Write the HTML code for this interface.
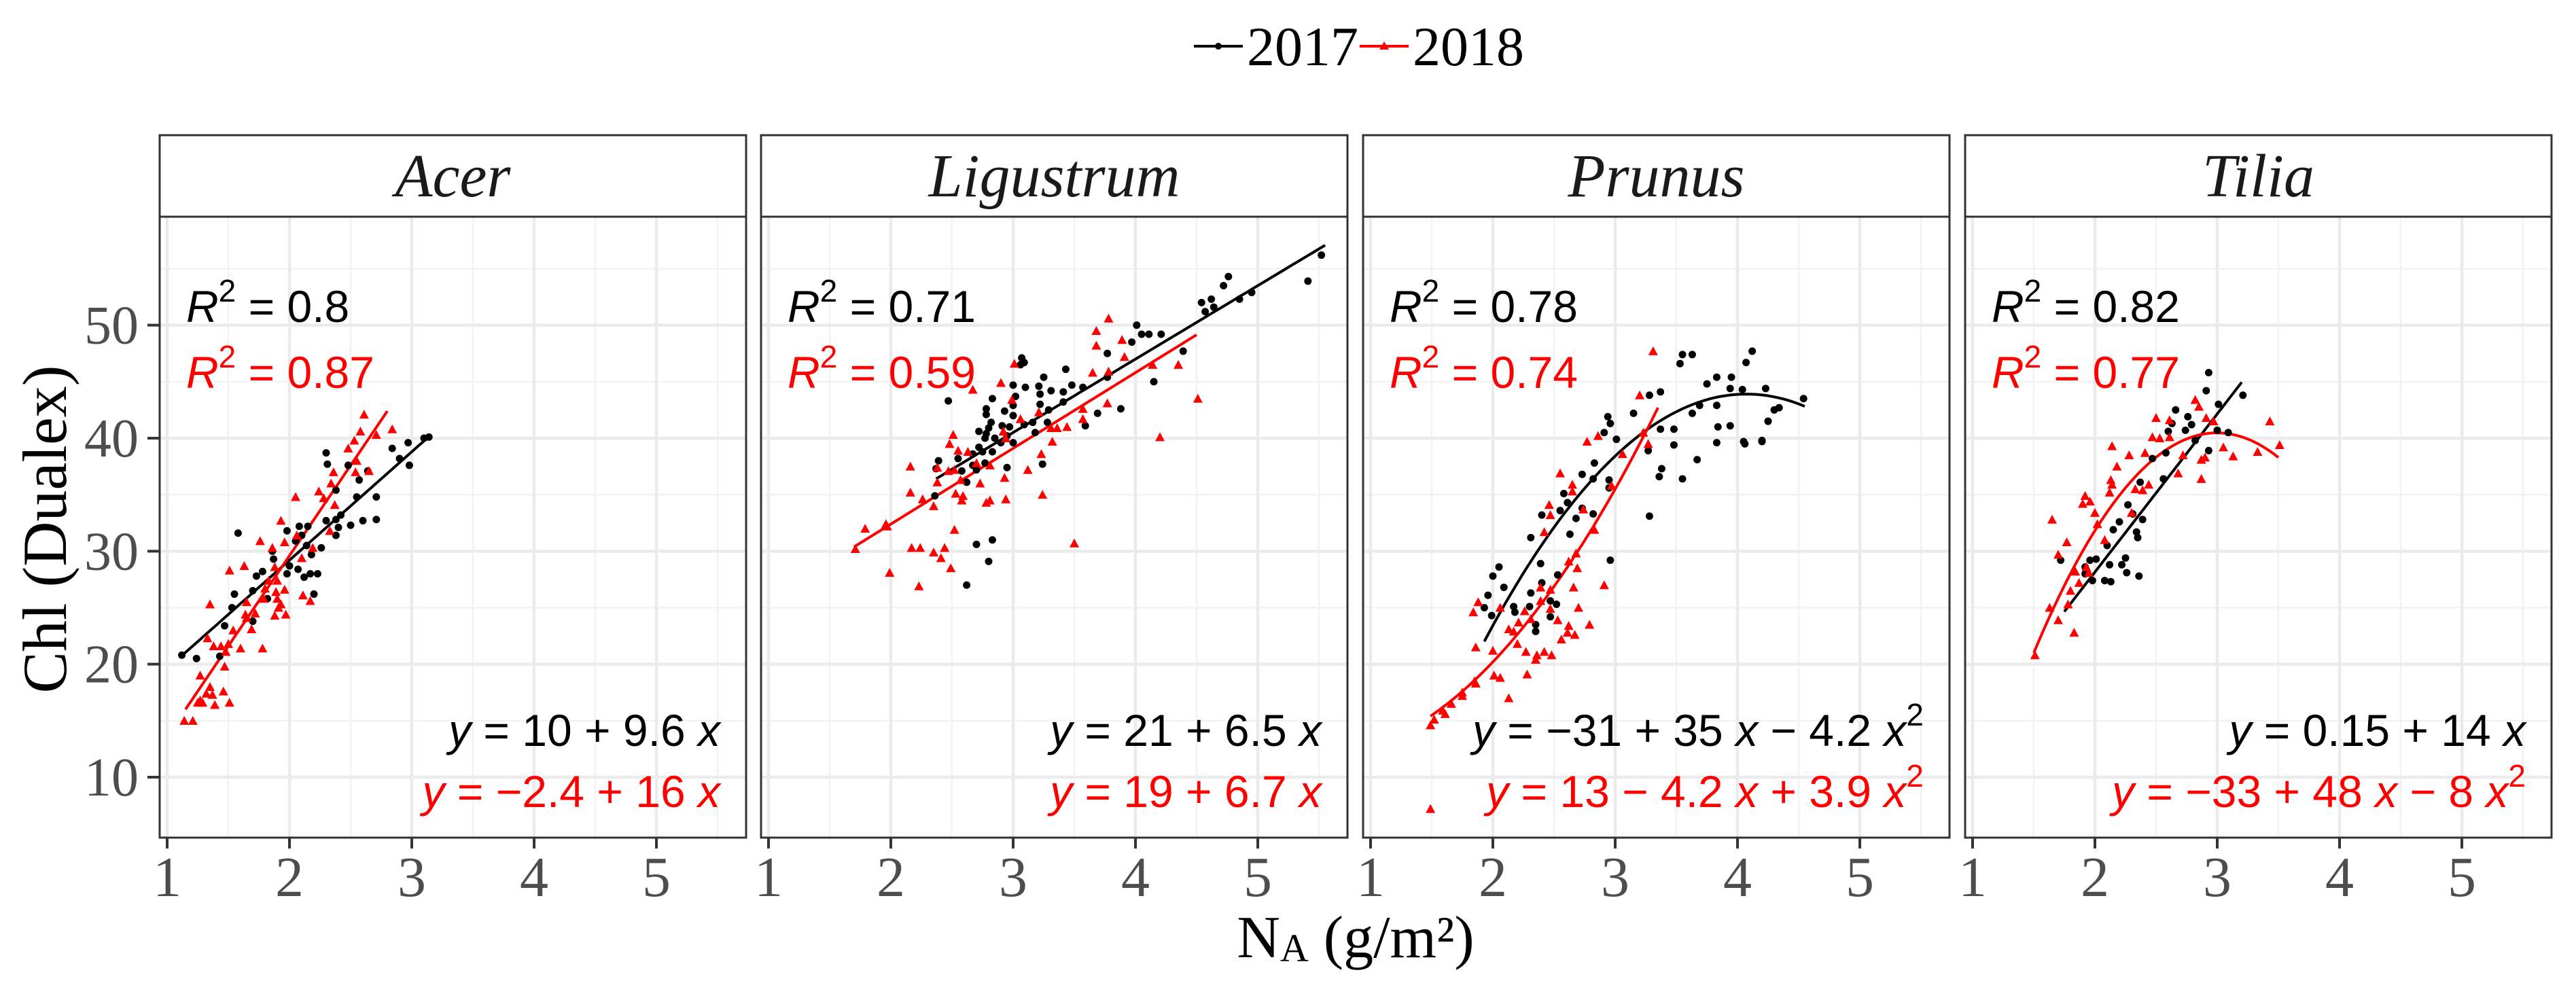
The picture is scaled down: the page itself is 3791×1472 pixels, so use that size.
<!DOCTYPE html>
<html><head><meta charset="utf-8"><style>
html,body{margin:0;padding:0;background:#fff;}
svg{display:block;}
</style></head><body>
<svg id="chart" width="3791" height="1472" viewBox="0 0 3791 1472" xmlns="http://www.w3.org/2000/svg">
<rect x="0" y="0" width="3791" height="1472" fill="#fff"/>
</svg>
<script>
// ---- data ----
const species = ["Acer","Ligustrum","Prunus","Tilia"];
const xTicks = [1,2,3,4,5];
const yTicks = [10,20,30,40,50];
const legendYears = ["2017","2018"];
const r2_2017 = ["0.8","0.71","0.78","0.82"];
const r2_2018 = ["0.87","0.59","0.74","0.77"];
const eq2017 = ["y = 10 + 9.6 x","y = 21 + 6.5 x","y = \u221231 + 35 x \u2212 4.2 x|2","y = 0.15 + 14 x"];
const eq2018 = ["y = \u22122.4 + 16 x","y = 19 + 6.7 x","y = 13 \u2212 4.2 x + 3.9 x|2","y = \u221233 + 48 x \u2212 8 x|2"];
// fit coefficients [a,b,c] for y = a + b x + c x^2, and x ranges
const fit2017 = [[10,9.6,0],[21,6.5,0],[-35.2,38.85,-4.77],[0.15,14,0]];
const fit2018 = [[-2.4,16,0],[19,6.7,0],[13,-4.2,3.9],[-37.5,52,-8.67]];
const range2017 = [[1.12,3.14],[2.37,5.55],[1.93,4.55],[1.75,3.2]];
const range2018 = [[1.15,2.8],[1.7,4.5],[1.49,3.35],[1.5,3.5]];

const acerX17=[1.12,1.24,1.43,1.47,1.55,1.53,1.70,1.73,1.78,1.82,1.70,1.58,1.86,1.87,1.98,1.98,2.0,2.05,2.08,2.10,2.15,2.14,2.07,2.12,2.17,2.23,2.18,2.2,2.26,2.30,2.38,2.40,2.38,2.50,2.60,2.71,2.42,2.55,2.71,2.57,2.64,2.48,2.31,2.30,2.38,2.84,2.97,2.90,2.98,3.10,3.14];
const acerY17=[20.8,20.5,20.7,23.4,26.2,25.0,26.5,27.8,28.2,25.8,23.8,31.6,30.0,29.3,31.8,28.0,28.7,30.9,32.2,31.4,32.2,30.5,28.4,27.7,28.0,28.0,29.7,26.2,30.3,32.7,32.8,32.1,31.4,32.3,32.7,32.8,33.2,34.8,34.8,36.3,37.1,37.6,37.7,38.7,35.4,39.1,39.6,38.2,37.6,40.0,40.1];
const acerX18=[1.14,1.21,1.25,1.29,1.27,1.39,1.51,1.37,1.46,1.35,1.32,1.27,1.47,1.48,1.38,1.44,1.50,1.33,1.60,1.78,1.54,1.69,1.65,1.64,1.72,1.35,1.65,1.79,1.88,1.97,1.91,1.90,1.93,1.96,1.89,1.80,1.51,1.63,1.88,1.90,1.83,1.76,1.86,1.96,1.93,2.06,2.10,2.11,2.17,2.19,2.05,2.24,2.28,2.34,2.37,2.36,2.33,2.48,2.55,2.54,2.65,2.53,2.58,2.61,2.71,2.84];
const acerY18=[15.0,15.0,16.6,16.6,16.8,16.4,16.6,17.3,17.6,18.0,17.4,19.0,19.8,21.1,21.6,21.6,21.8,22.3,21.4,21.4,23.0,23.1,24.1,24.4,24.5,25.3,25.5,25.8,24.3,24.4,25.0,25.8,25.3,26.6,26.4,26.7,28.3,28.7,28.6,27.4,27.4,30.9,30.3,30.8,32.7,31.4,29.4,26.1,25.6,30.3,34.8,35.3,34.7,36.0,34.1,37.0,31.8,39.1,38.0,37.0,37.1,39.8,40.6,42.1,40.3,40.8];

const ligX17=[4.76,4.72,5.41,4.95,4.85,4.62,4.54,4.64,4.57,4.01,4.05,4.11,4.21,3.97,4.39,3.77,4.15,3.07,3.06,3.09,3.43,3.25,3.77,3.0,3.10,3.21,3.31,3.41,3.48,3.57,3.22,3.02,2.83,2.47,3.41,3.22,2.78,2.93,3.0,3.29,3.0,2.78,3.28,3.16,3.09,2.82,2.91,2.97,2.80,2.72,2.78,2.77,2.85,2.90,2.95,3.0,3.18,3.59,3.69,3.88,2.72,2.67,2.75,2.83,2.55,2.39,2.37,2.67,2.70,2.77,2.95,2.58,2.62,3.24,2.36,2.70,2.83,2.80,2.62,5.52];
const ligY17=[54.3,53.5,53.9,52.9,52.3,52.3,52.0,51.6,51.2,50.0,49.2,49.2,49.2,48.5,47.7,47.5,45.0,47.1,46.5,46.7,46.1,45.4,45.4,44.7,44.5,44.6,44.2,44.1,44.7,44.5,43.9,43.7,43.5,43.3,43.2,43.0,42.6,42.4,42.9,42.5,42.0,42.1,41.4,41.4,41.2,41.4,41.1,41.0,40.9,40.6,40.4,40.0,40.0,39.6,40.2,39.6,40.5,41.1,42.2,42.6,39.2,38.6,38.8,38.8,38.2,38.0,37.3,37.6,37.2,37.8,37.4,37.1,36.1,37.7,34.9,30.6,31.0,29.1,27.0,56.2];
const ligX18=[3.78,3.68,3.68,3.89,3.91,4.14,4.35,4.51,3.01,2.90,2.67,2.99,3.65,3.78,3.21,3.06,3.77,3.57,3.57,3.44,3.36,3.31,2.92,2.94,2.51,2.48,2.55,2.63,3.32,3.23,2.38,2.16,2.47,2.52,2.81,2.70,2.38,2.57,2.73,2.93,3.12,4.20,2.16,2.26,2.35,2.53,2.59,2.58,2.78,2.81,2.94,3.24,1.96,2.52,2.17,2.24,2.44,2.35,2.41,2.49,1.99,2.23,3.50,1.71,1.79,1.97];
const ligY18=[50.6,49.5,48.2,48.7,47.2,46.5,46.5,43.5,46.6,44.9,44.3,43.4,45.8,45.9,42.3,41.7,43.1,42.6,41.7,41.0,40.9,40.9,40.6,40.0,40.3,39.5,38.9,38.8,39.7,38.6,37.4,37.5,37.1,37.2,37.6,37.8,36.1,36.3,36.0,36.5,37.2,40.1,35.2,34.6,34.0,35.1,34.9,34.5,34.3,34.5,34.6,35.0,32.4,31.9,30.3,30.3,30.3,29.9,29.4,28.5,28.1,26.9,30.7,30.2,32.0,32.2];

const pruX17=[3.55,3.63,3.53,4.12,4.07,3.75,3.83,3.95,3.94,4.04,4.23,3.37,3.28,3.69,3.83,4.34,4.54,4.25,4.05,4.20,3.94,3.15,2.94,2.96,2.91,3.01,3.37,3.48,3.63,3.84,4.30,4.25,3.48,3.27,3.83,4.06,4.20,3.67,3.38,3.36,3.55,2.83,2.73,2.82,2.95,2.95,2.58,2.61,2.55,2.73,2.82,2.68,2.40,2.63,2.31,3.28,2.96,2.39,2.05,2.0,2.53,2.09,2.40,1.96,2.31,1.93,2.17,2.30,2.18,1.99,2.47,2.52,2.47,2.35,2.35];
const pruY17=[47.4,47.4,46.6,47.7,46.7,44.8,45.4,45.4,44.4,44.3,44.4,44.1,43.8,42.9,42.9,42.7,43.5,41.5,39.7,39.8,41.1,42.2,41.9,41.3,40.5,39.9,40.8,40.8,42.2,41.0,42.5,41.5,39.4,38.9,39.6,39.5,39.7,38.1,37.3,36.6,36.4,37.8,36.8,36.4,36.3,35.6,35.1,34.3,33.6,33.8,33.3,32.9,33.2,31.5,31.2,33.1,29.2,28.9,28.6,27.8,27.9,26.8,27.2,26.1,26.3,25.0,25.1,25.1,24.6,24.3,25.6,25.3,24.2,23.5,22.9];
const pruX18=[3.31,3.20,1.49,1.52,1.59,1.61,1.66,1.75,1.86,1.49,2.77,2.86,3.23,3.27,3.06,2.55,2.65,2.65,2.46,2.47,2.74,2.42,2.97,2.83,2.68,2.62,2.69,2.66,2.91,2.39,2.47,1.88,1.84,2.06,2.39,2.47,2.70,2.26,2.31,2.21,2.53,2.79,2.13,2.17,2.62,2.61,2.67,2.20,2.56,1.86,2.0,2.27,2.36,2.42,2.48,2.35,2.01,2.06,2.28,2.13,1.85,1.75];
const pruY18=[47.7,43.8,14.6,15.1,15.9,15.6,16.5,17.2,18.3,7.2,39.7,40.2,40.5,39.5,38.6,36.9,35.9,35.3,34.1,33.2,33.7,31.7,35.8,31.9,29.8,29.1,28.5,26.8,27.0,26.8,26.6,25.5,24.6,25.0,25.6,24.9,25.0,24.7,24.0,23.7,23.9,23.5,23.1,22.9,23.4,22.8,22.6,21.8,22.2,21.5,21.2,21.1,20.8,21.1,20.8,20.4,19.0,18.8,19.1,17.0,18.5,17.5];

const tilX17=[2.93,2.91,3.21,3.01,2.66,2.76,2.79,2.63,2.74,2.60,3.0,3.09,2.82,2.93,2.58,2.47,2.56,2.37,2.27,2.39,2.31,2.20,2.15,2.34,2.35,2.10,2.01,1.96,1.72,2.25,2.12,2.22,1.92,2.26,2.36,1.98,2.08,2.13,1.92];
const tilY17=[45.8,44.2,43.8,43.0,42.5,41.9,41.2,41.3,40.7,40.6,40.7,40.5,39.8,38.9,38.7,38.2,36.4,36.1,34.1,32.8,33.3,32.6,31.9,31.7,31.2,30.5,29.3,29.2,29.2,29.4,28.8,28.8,28.0,28.1,27.8,27.4,27.4,27.3,28.6];
const tilX18=[2.82,2.85,2.50,2.61,2.91,2.97,3.43,2.47,2.53,2.61,3.51,2.14,2.28,2.41,2.72,3.05,3.13,3.33,2.87,2.90,2.18,2.68,2.87,2.13,2.14,2.12,2.33,2.39,2.44,1.92,1.90,1.96,2.30,2.00,1.65,2.02,2.08,1.77,1.70,1.84,1.93,1.95,1.80,1.87,1.78,1.63,1.70,1.83,1.51];
const tilY18=[43.4,42.8,41.8,41.6,41.8,41.5,41.5,40.1,40.0,40.1,39.4,39.3,38.5,38.7,38.5,39.2,38.4,38.8,38.1,38.3,37.5,36.9,36.4,36.3,35.9,35.2,35.5,35.4,35.9,34.9,34.2,34.4,33.4,33.4,32.8,32.4,31.0,30.8,29.7,28.2,28.6,28.1,26.5,27.2,25.3,25.0,23.9,22.8,20.8];

const pts17X=[acerX17,ligX17,pruX17,tilX17], pts17Y=[acerY17,ligY17,pruY17,tilY17];
const pts18X=[acerX18,ligX18,pruX18,tilX18], pts18Y=[acerY18,ligY18,pruY18,tilY18];

// ---- layout ----
const NS="http://www.w3.org/2000/svg";
const svg=document.getElementById('chart');
const panelLeft=[235,1120,2006,2892], panelW=863, plotTop=319, plotBot=1233, stripTop=199;
const xDom=[0.939,5.733], yDom=[4.65,59.6];
function xs(p,v){return panelLeft[p]+(v-xDom[0])/(xDom[1]-xDom[0])*panelW;}
function ys(v){return plotBot-(v-yDom[0])/(yDom[1]-yDom[0])*(plotBot-plotTop);}
function mk(tag,attrs,parent){const e=document.createElementNS(NS,tag);for(const k in attrs)e.setAttribute(k,attrs[k]);(parent||svg).appendChild(e);return e;}
const RED="#ff0000";

// legend
const lg=mk('g',{});


const legColors=["#000",RED], legX=[1757,2001];
legendYears.forEach((yr,i)=>{
  const g=mk('g',{},lg);
  
  
  mk('line',{x1:legX[i],x2:legX[i]+72,y1:68,y2:68,stroke:legColors[i],'stroke-width':4},g);
  if(i===0) mk('circle',{cx:legX[i]+36,cy:68,r:5,fill:legColors[i]},g);
  else mk('polygon',{points:`${legX[i]+36},61 ${legX[i]+43},73 ${legX[i]+29},73`,fill:legColors[i]},g);
  const t=mk('text',{x:legX[i]+78,y:96,'font-family':'"Liberation Serif",serif','font-size':82,fill:'#000'},g);
  t.textContent=yr;
});

species.forEach((sp,p)=>{
  const L=panelLeft[p], R=L+panelW;
  const g=mk('g',{});
  
  
  const st=mk('rect',{x:L,y:stripTop,width:panelW,height:plotTop-stripTop,fill:'#fff',stroke:'#333','stroke-width':3},g);
  
  
  const stt=mk('text',{x:L+panelW/2,y:289,'text-anchor':'middle','font-family':'"Liberation Serif",serif','font-style':'italic','font-size':90,fill:'#1a1a1a'},g);
  stt.textContent=sp;
  
  
  [1.5,2.5,3.5,4.5,5.5].forEach(v=>mk('line',{x1:xs(p,v),x2:xs(p,v),y1:plotTop,y2:plotBot,stroke:'#f2f2f2','stroke-width':2.5},g));
  [15,25,35,45,55].forEach(v=>mk('line',{x1:L,x2:R,y1:ys(v),y2:ys(v),stroke:'#f2f2f2','stroke-width':2.5},g));
  xTicks.forEach(v=>mk('line',{x1:xs(p,v),x2:xs(p,v),y1:plotTop,y2:plotBot,stroke:'#ebebeb','stroke-width':4.5},g));
  yTicks.forEach(v=>mk('line',{x1:L,x2:R,y1:ys(v),y2:ys(v),stroke:'#ebebeb','stroke-width':4.5},g));
  [[fit2017,range2017,'#000','2017'],[fit2018,range2018,RED,'2018']].forEach(([fit,rng,col,yr])=>{
    const c=fit[p], r=rng[p]; let d='';
    for(let i=0;i<=60;i++){const x=r[0]+(r[1]-r[0])*i/60; const y=c[0]+c[1]*x+c[2]*x*x; d+=(i?'L':'M')+xs(p,x).toFixed(1)+','+ys(y).toFixed(1);}
    const pa=mk('path',{d:d,fill:'none',stroke:col,'stroke-width':4},g);
    
    
  });
  pts17X[p].forEach((x,i)=>{
    const c=mk('circle',{cx:xs(p,x),cy:ys(pts17Y[p][i]),r:5.5,fill:'#000'},g);
    
    
  });
  pts18X[p].forEach((x,i)=>{
    const cx=xs(p,x), cy=ys(pts18Y[p][i]);
    const t=mk('polygon',{points:`${cx},${cy-7} ${cx+7},${cy+6} ${cx-7},${cy+6}`,fill:RED},g);
    
    
  });
  mk('rect',{x:L,y:plotTop,width:panelW,height:plotBot-plotTop,fill:'none',stroke:'#333','stroke-width':3},g);
  [[r2_2017[p],'#000',474],[r2_2018[p],RED,571]].forEach(([v,col,by])=>{
    const t=mk('text',{x:L+39,y:by,'font-family':'"Liberation Sans",sans-serif','font-size':66,fill:col},g);
    
    
    t.innerHTML=`<tspan font-style="italic">R</tspan><tspan dy="-30" font-size="46">2</tspan><tspan dy="30"> = ${v}</tspan>`;
  });
  [[eq2017[p],'#000',1098],[eq2018[p],RED,1188]].forEach(([v,col,by])=>{
    const t=mk('text',{x:R-38,y:by,'text-anchor':'end','font-family':'"Liberation Sans",sans-serif','font-size':66,fill:col},g);
    
    
    const parts=v.split('|');
    let s=parts[0].replace(/^y/,'<tspan font-style="italic">y</tspan>').replace(/ x/g,' <tspan font-style="italic">x</tspan>');
    if(parts[1]) s+=`<tspan dy="-30" font-size="46">${parts[1]}</tspan>`;
    t.innerHTML=s;
  });
  xTicks.forEach(v=>{
    mk('line',{x1:xs(p,v),x2:xs(p,v),y1:plotBot,y2:plotBot+16,stroke:'#333','stroke-width':4},g);
    const t=mk('text',{x:xs(p,v),y:1319,'text-anchor':'middle','font-family':'"Liberation Serif",serif','font-size':84,fill:'#4d4d4d'},g);
    t.textContent=v;
    
    
  });
});
yTicks.forEach(v=>{
  mk('line',{x1:217,x2:235,y1:ys(v),y2:ys(v),stroke:'#333','stroke-width':4});
  const t=mk('text',{x:204,y:ys(v)+27,'text-anchor':'end','font-family':'"Liberation Serif",serif','font-size':80,fill:'#4d4d4d'});
  t.textContent=v;
  
  
});
const yt=mk('text',{x:0,y:0,transform:'translate(97,779) rotate(-90)','text-anchor':'middle','font-family':'"Liberation Serif",serif','font-size':92,fill:'#000'});
yt.textContent='Chl (Dualex)';


const xt=mk('text',{x:1995,y:1409,'text-anchor':'middle','font-family':'"Liberation Serif",serif','font-size':88,fill:'#000'});
xt.innerHTML='N<tspan font-size="58" dy="6">A</tspan><tspan dy="-6"> (g/m²)</tspan>';


</script>
</body></html>
